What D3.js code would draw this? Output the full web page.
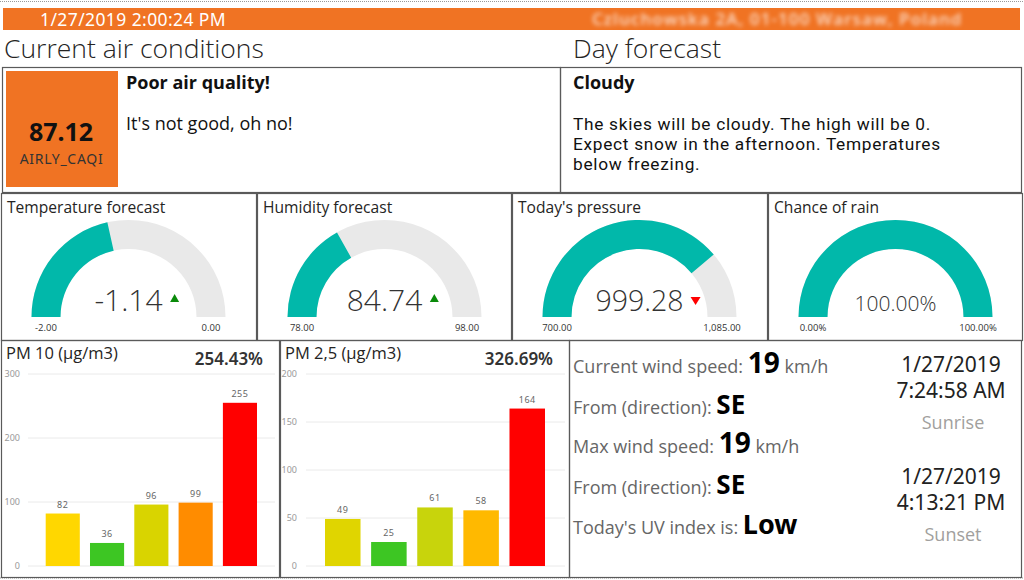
<!DOCTYPE html>
<html><head><meta charset="utf-8">
<script src="https://cdn.jsdelivr.net/npm/d3@7"></script>
<style>
body{margin:0;background:#fff;}
svg{display:block;font-family:"Open Sans","Noto Sans",sans-serif;}
</style>
</head><body>
<svg id="c" width="1024" height="580"></svg>
<script>
// ---------- data ----------
const headerDate = "1/27/2019 2:00:24 PM";
const headerAddress = "Czluchowska 2A, 01-100 Warsaw, Poland";
const sectionTitles = ["Current air conditions", "Day forecast"];
const caqiValue = "87.12";
const caqiLabel = "AIRLY_CAQI";
const airQualityTitle = "Poor air quality!";
const airQualityText = "It's not good, oh no!";
const forecastTitle = "Cloudy";
const forecastLines = ["The skies will be cloudy. The high will be 0.", "Expect snow in the afternoon. Temperatures", "below freezing."];

const gaugeTitles = ["Temperature forecast", "Humidity forecast", "Today's pressure", "Chance of rain"];
const gaugeValues = [-1.14, 84.74, 999.28, 100];
const gaugeMins = [-2, 78, 700, 0];
const gaugeMaxs = [0, 98, 1085, 100];
const gaugeValueLabels = ["-1.14", "84.74", "999.28", "100.00%"];
const gaugeMinLabels = ["-2.00", "78.00", "700.00", "0.00%"];
const gaugeMaxLabels = ["0.00", "98.00", "1,085.00", "100.00%"];
const gaugeTrends = ["up", "up", "down", "none"];

const pmCategories = ["c1", "c2", "c3", "c4", "c5"];
const pm10Values = [82, 36, 96, 99, 255];
const pm25Values = [49, 25, 61, 58, 164];
const pm10Ticks = [0, 100, 200, 300];
const pm25Ticks = [0, 50, 100, 150, 200];
const pmTitles = ["PM 10 (µg/m3)", "PM 2,5 (µg/m3)"];
const pmPercents = ["254.43%", "326.69%"];

const windLabels = ["Current wind speed: ", "From (direction): ", "Max wind speed: ", "From (direction): ", "Today's UV index is: "];
const windValues = ["19", "SE", "19", "SE", "Low"];
const windUnits = [" km/h", "", " km/h", "", ""];
const sunDates = ["1/27/2019", "1/27/2019"];
const sunTimes = ["7:24:58 AM", "4:13:21 PM"];
const sunLabels = ["Sunrise", "Sunset"];

// ---------- styles ----------
const ORANGE = "#F07323";
const TEAL = "#01B8AA";
const GAUGE_BG = "#E9E9E9";
const BORDER = "#5a5a5a";
const pm10Colors = ["#FFD700", "#3DC623", "#D9D400", "#FF8C00", "#FF0000"];
const pm25Colors = ["#E0D500", "#3DC623", "#C8D40C", "#FFB900", "#FF0000"];

const svg = d3.select("#c");
const defs = svg.append("defs");
defs.append("filter").attr("id", "blur").append("feGaussianBlur").attr("stdDeviation", 2.2);

// page dotted edges
[1.5, 578].forEach(y => svg.append("line").attr("x1", 0).attr("x2", 1024).attr("y1", y).attr("y2", y)
  .attr("stroke", "#999").attr("stroke-dasharray", "1,1"));

// header bar
svg.append("rect").attr("x", 3).attr("y", 8).attr("width", 1017).attr("height", 22).attr("fill", ORANGE);
svg.append("text").attr("x", 40).attr("y", 25.5).attr("fill", "#fff").attr("font-size", 17.5)
  .attr("font-family", "'Noto Sans',sans-serif").attr("letter-spacing", 0.4).text(headerDate);
svg.append("text").attr("x", 592).attr("y", 25).attr("fill", "#fff").attr("opacity", 0.75)
  .attr("font-size", 17).attr("font-weight", 600).attr("letter-spacing", 1.1).attr("filter", "url(#blur)").text(headerAddress);

// section titles
svg.append("text").attr("x", 4).attr("y", 58).attr("font-size", 26.5).attr("font-weight", 300).attr("fill", "#252423").text(sectionTitles[0]);
svg.append("text").attr("x", 573).attr("y", 58).attr("font-size", 26.5).attr("font-weight", 300).attr("fill", "#252423").text(sectionTitles[1]);

function box(x, y, w, h) {
  svg.append("rect").attr("x", x + 0.5).attr("y", y + 0.5).attr("width", w).attr("height", h)
    .attr("fill", "none").attr("stroke", BORDER).attr("stroke-width", 1.2);
}

// top boxes
box(2, 67, 558, 125);
box(560, 67, 461, 125);
svg.append("rect").attr("x", 6).attr("y", 71).attr("width", 112).attr("height", 116).attr("fill", ORANGE);
svg.append("text").attr("x", 61).attr("y", 141).attr("text-anchor", "middle").attr("font-size", 25)
  .attr("font-weight", 700).attr("font-family", "'Noto Sans',sans-serif").attr("fill", "#111").text(caqiValue);
svg.append("text").attr("x", 61.5).attr("y", 164).attr("text-anchor", "middle").attr("font-size", 14)
  .attr("font-family", "'Noto Sans',sans-serif").attr("fill", "#333").attr("letter-spacing", 0.7).text(caqiLabel);
svg.append("text").attr("x", 126).attr("y", 89).attr("font-size", 18).attr("font-weight", 700).attr("fill", "#111").text(airQualityTitle);
svg.append("text").attr("x", 126).attr("y", 130).attr("font-size", 18).attr("fill", "#111").text(airQualityText);
svg.append("text").attr("x", 573).attr("y", 89).attr("font-size", 18).attr("font-weight", 700).attr("fill", "#111").text(forecastTitle);
forecastLines.forEach((l, i) => svg.append("text").attr("x", 573).attr("y", 129.5 + i * 20.3)
  .attr("font-size", 17.3).attr("font-family", "Roboto,sans-serif").attr("letter-spacing", 0.7)
  .attr("fill", "#111").text(l));

// gauges
const gaugeX = [0, 256, 511, 767];
const gaugeW = [256, 255, 256, 255];
const gaugeFont = [30, 30, 28.5, 21];
const arcGen = d3.arc().innerRadius(68).outerRadius(97);
gaugeTitles.forEach((t, i) => {
  const gx = gaugeX[i];
  box(gx + 1, 193, gaugeW[i] - 1, 147);
  const g = svg.append("g");
  g.append("text").attr("x", gx + 7).attr("y", 213).attr("font-size", 15.6).attr("fill", "#252423").text(t);
  const cx = gx + 128.5, cy = 317;
  const a = d3.scaleLinear().domain([gaugeMins[i], gaugeMaxs[i]]).range([-Math.PI / 2, Math.PI / 2]).clamp(true);
  const ag = g.append("g").attr("transform", `translate(${cx},${cy})`);
  ag.append("path").attr("d", arcGen({startAngle: -Math.PI / 2, endAngle: Math.PI / 2})).attr("fill", GAUGE_BG);
  ag.append("path").attr("d", arcGen({startAngle: -Math.PI / 2, endAngle: a(gaugeValues[i])})).attr("fill", TEAL);
  const vt = g.append("text").attr("x", cx).attr("y", 311).attr("text-anchor", "middle")
    .attr("font-size", gaugeFont[i]).attr("font-weight", 300).attr("font-family", "'Open Sans',sans-serif")
    .attr("fill", "#333").text(gaugeValueLabels[i]);
  const tw = vt.node().getComputedTextLength();
  const tx = cx + tw / 2 + 12;
  if (gaugeTrends[i] === "up") {
    g.append("path").attr("d", `M${tx - 4.5},302 L${tx + 4.5},302 L${tx},294 Z`).attr("fill", "#0a8a0a");
  } else if (gaugeTrends[i] === "down") {
    g.append("path").attr("d", `M${tx - 5},297 L${tx + 5},297 L${tx},305 Z`).attr("fill", "#f00");
  }
  g.append("text").attr("x", cx - 82.5).attr("y", 331).attr("text-anchor", "middle").attr("font-size", 9.5)
    .attr("fill", "#333").text(gaugeMinLabels[i]);
  g.append("text").attr("x", cx + 82.5).attr("y", 331).attr("text-anchor", "middle").attr("font-size", 9.5)
    .attr("fill", "#333").text(gaugeMaxLabels[i]);
});

// bar charts
function barChart(opts) {
  const {px, pw, values, ticks, colors, title, pct, axisX, gridX0, gridX1, bandRange} = opts;
  box(px, 340, pw, 237);
  const g = svg.append("g");
  g.append("text").attr("x", px + 5).attr("y", 359).attr("font-size", 16.5).attr("fill", "#252423").text(title);
  g.append("text").attr("x", gridX1 - 12).attr("y", 365).attr("text-anchor", "end").attr("font-size", 17)
    .attr("font-weight", 600).attr("font-family", "'Noto Sans',sans-serif").attr("fill", "#333").text(pct);
  const y = d3.scaleLinear().domain([0, ticks[ticks.length - 1]]).range([566, 374]);
  const x = d3.scaleBand().domain(pmCategories).range(bandRange).paddingInner(0.23).paddingOuter(0.115);
  const ax = g.append("g").attr("transform", `translate(${axisX},0)`)
    .call(d3.axisLeft(y).tickValues(ticks).tickSize(0).tickPadding(0));
  ax.select(".domain").remove();
  ax.selectAll("text").attr("font-size", 9).attr("fill", "#999").attr("font-family", "'Noto Sans',sans-serif");
  g.append("g").selectAll("line").data(ticks).join("line")
    .attr("x1", gridX0).attr("x2", gridX1).attr("y1", d => y(d)).attr("y2", d => y(d))
    .attr("stroke", "#eaeaea").attr("stroke-width", 1);
  g.append("g").selectAll("rect").data(values).join("rect")
    .attr("x", (d, i) => x(pmCategories[i])).attr("width", x.bandwidth())
    .attr("y", d => y(d)).attr("height", d => y(0) - y(d)).attr("fill", (d, i) => colors[i]);
  g.append("g").selectAll("text").data(values).join("text")
    .attr("x", (d, i) => x(pmCategories[i]) + x.bandwidth() / 2).attr("y", d => y(d) - 6)
    .attr("text-anchor", "middle").attr("font-size", 9).attr("fill", "#666")
    .attr("font-family", "'Noto Sans',sans-serif").attr("letter-spacing", 0.5).text(d => d);
}
barChart({px: 1, pw: 278, values: pm10Values, ticks: pm10Ticks, colors: pm10Colors, title: pmTitles[0],
  pct: pmPercents[0], axisX: 20, gridX0: 28, gridX1: 275, bandRange: [40.6, 262.1]});
barChart({px: 280, pw: 289, values: pm25Values, ticks: pm25Ticks, colors: pm25Colors, title: pmTitles[1],
  pct: pmPercents[1], axisX: 297, gridX0: 306, gridX1: 565, bandRange: [319.7, 550.3]});

// right panel
box(569, 340, 452, 237);
const lineY = [373, 414, 453, 494, 534];
const valSize = [28, 26, 28, 26, 27];
windLabels.forEach((l, i) => {
  const t = svg.append("text").attr("x", 573).attr("y", lineY[i]).attr("fill", "#666").attr("font-size", 18);
  t.append("tspan").text(l);
  t.append("tspan").attr("font-size", valSize[i]).attr("font-weight", 700).attr("fill", "#000")
    .attr("font-family", "'Noto Sans',sans-serif").text(windValues[i]);
  if (windUnits[i]) t.append("tspan").text(windUnits[i]);
});
const sunBase = [372, 484];
sunDates.forEach((d, i) => {
  const b = sunBase[i];
  svg.append("text").attr("x", 951).attr("y", b).attr("text-anchor", "middle").attr("font-size", 21)
    .attr("font-family", "'Noto Sans',sans-serif").attr("fill", "#222").text(d);
  svg.append("text").attr("x", 951).attr("y", b + 26).attr("text-anchor", "middle").attr("font-size", 21)
    .attr("font-family", "'Noto Sans',sans-serif").attr("fill", "#222").text(sunTimes[i]);
  svg.append("text").attr("x", 953).attr("y", b + 57).attr("text-anchor", "middle").attr("font-size", 18)
    .attr("fill", "#a19f9d").text(sunLabels[i]);
});
</script>
</body></html>
